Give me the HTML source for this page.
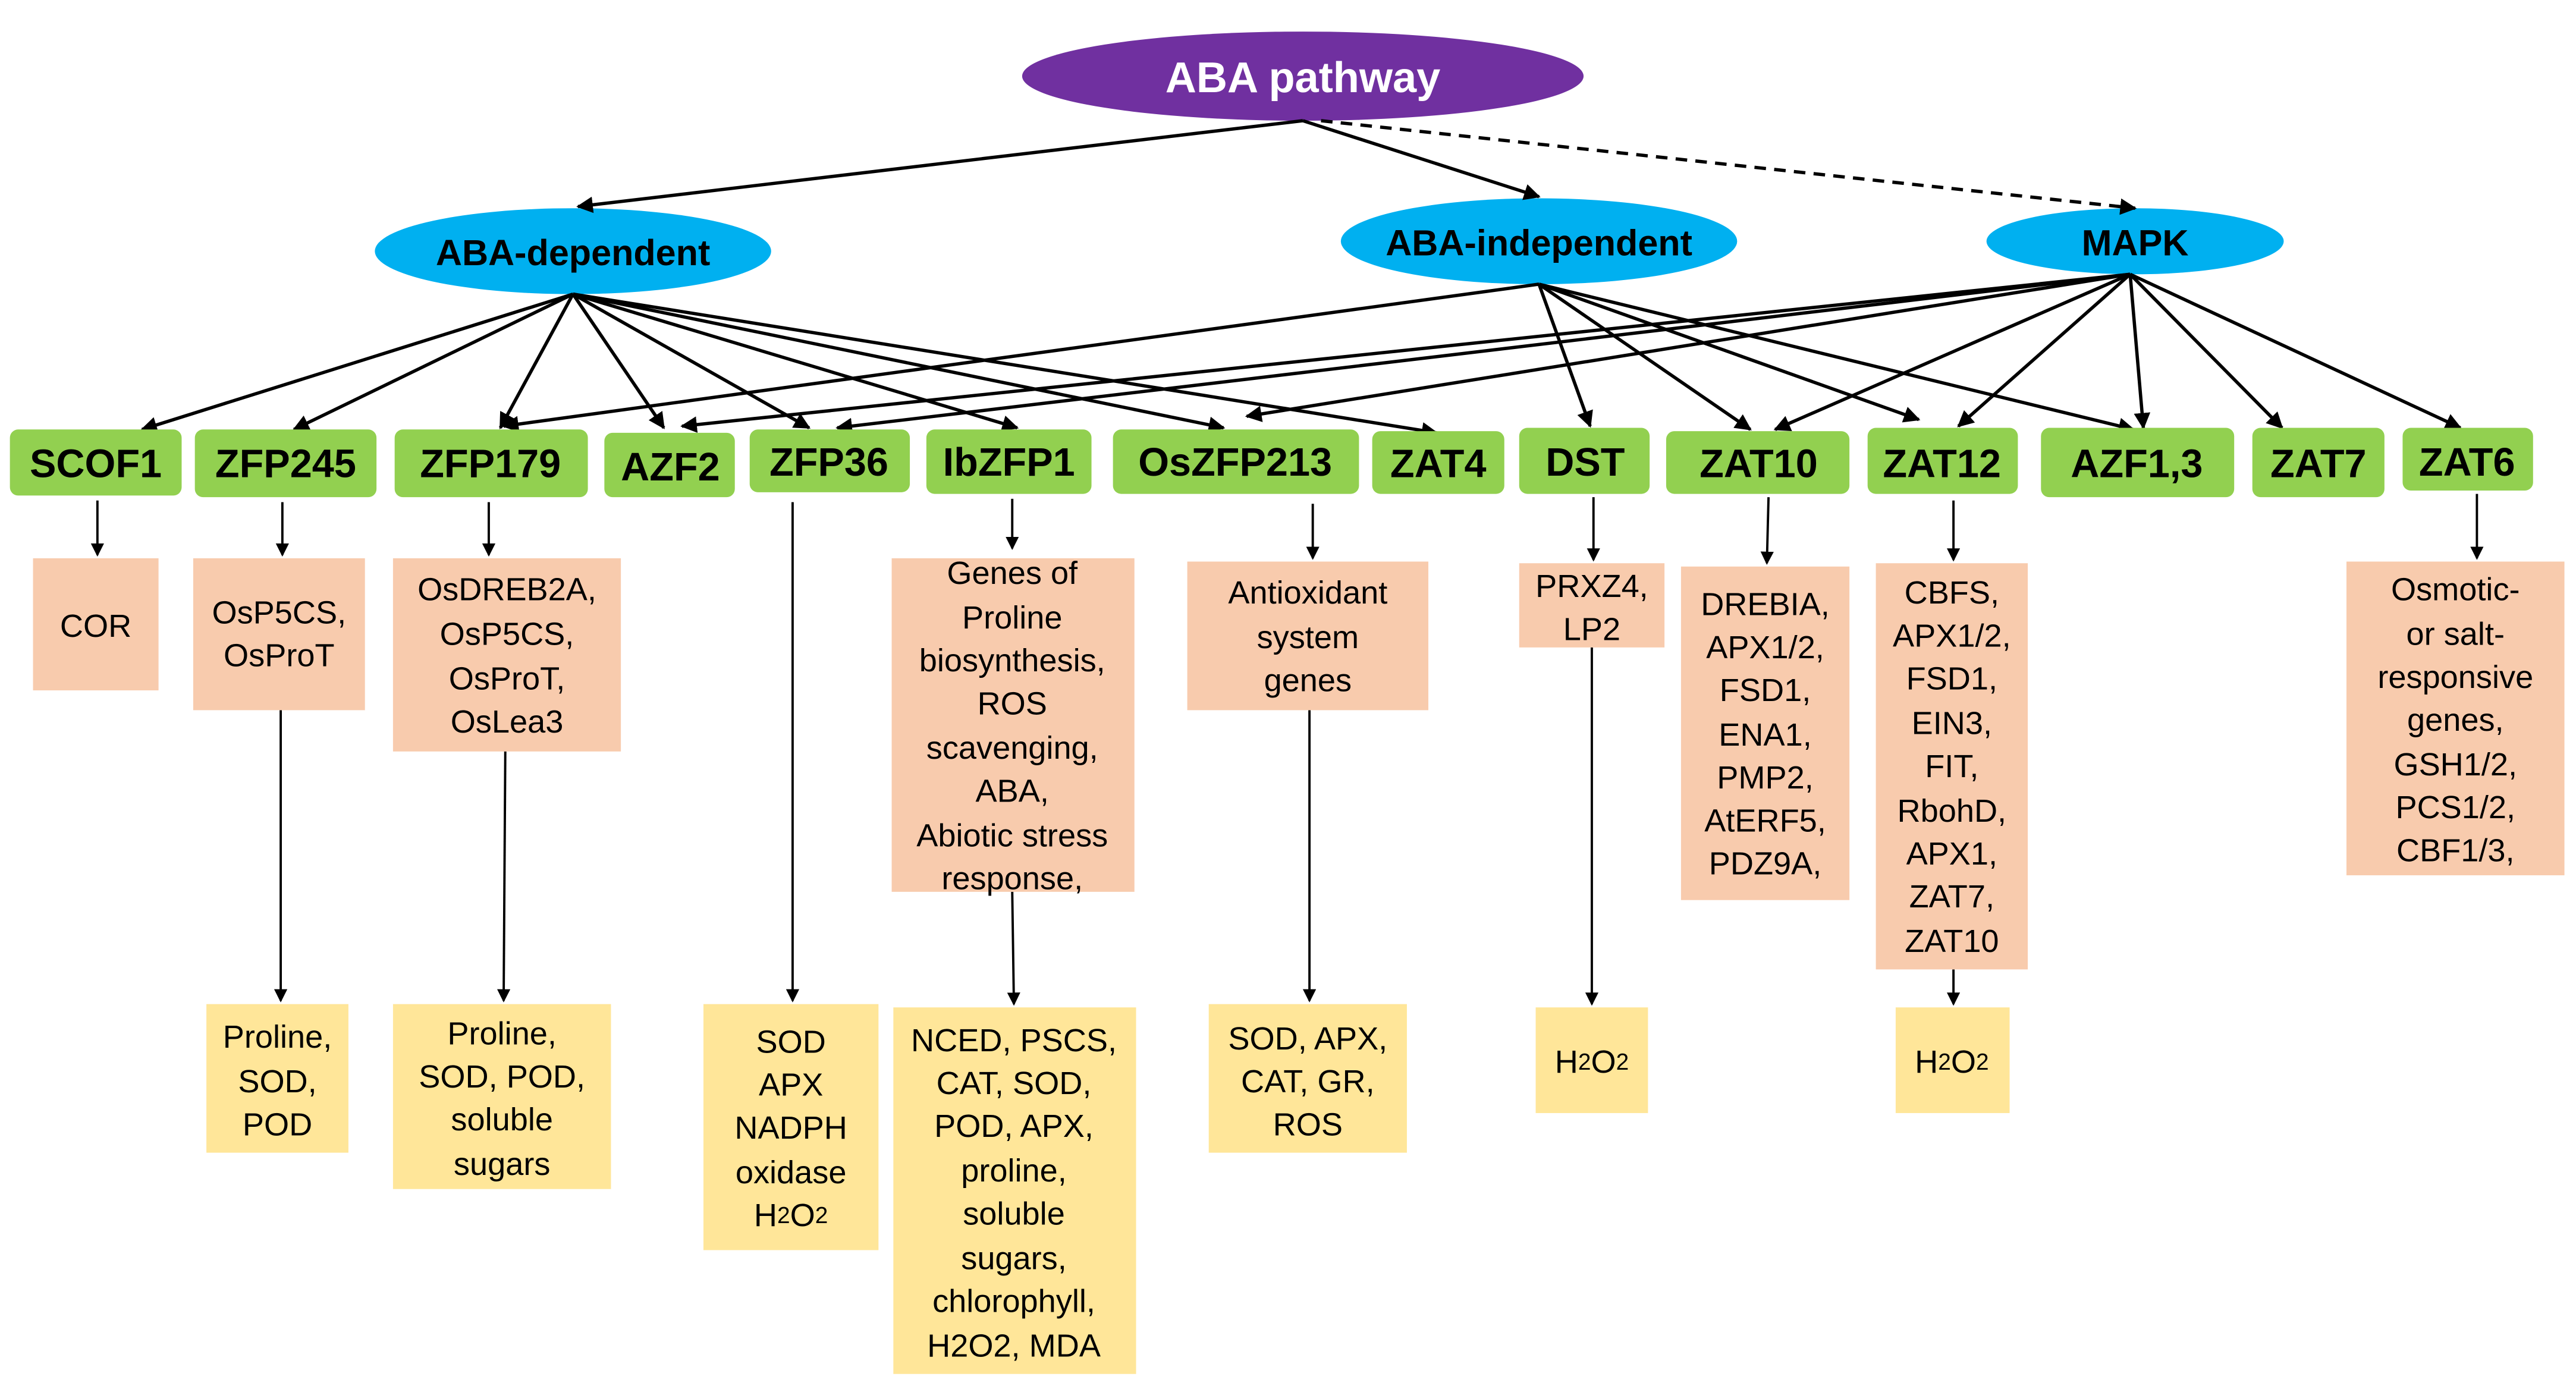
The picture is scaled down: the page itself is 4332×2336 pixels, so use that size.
<!DOCTYPE html>
<html><head><meta charset="utf-8"><style>
html,body{margin:0;padding:0;background:#fff;}
svg{display:block;}
text{font-family:"Liberation Sans",Arial,sans-serif;}
.g{fill:#92d050;}
.s{fill:#f8cbad;}
.y{fill:#ffe699;}
.gt{font-weight:bold;font-size:24px;fill:#000;text-anchor:middle;dominant-baseline:central;}
.bt{font-size:19.5px;fill:#000;text-anchor:middle;dominant-baseline:central;}
.l{stroke:#000;stroke-width:2;fill:none;}
.v{stroke:#000;stroke-width:1.4;fill:none;}
</style></head><body>
<svg width="4332" height="2336" viewBox="0 0 1560 841" xmlns="http://www.w3.org/2000/svg">
<defs>
<marker id="a" markerWidth="10" markerHeight="10" refX="9" refY="5" orient="auto" markerUnits="userSpaceOnUse"><path d="M0,0 L10,5 L0,10 Z" fill="#000"/></marker>
<marker id="b" markerWidth="8" markerHeight="8" refX="7" refY="4" orient="auto" markerUnits="userSpaceOnUse"><path d="M0,0 L8,4 L0,8 Z" fill="#000"/></marker>
</defs>
<rect width="1560" height="841" fill="#fff"/>

<!-- top ellipses -->
<ellipse cx="789" cy="46" rx="170" ry="27" fill="#7030a0"/>
<text x="789" y="47" class="gt" style="fill:#fff;font-size:26px">ABA pathway</text>
<ellipse cx="347" cy="152" rx="120" ry="26" fill="#00b0f0"/>
<text x="347" y="153" class="gt" style="font-size:22px">ABA-dependent</text>
<ellipse cx="932" cy="146" rx="120" ry="26" fill="#00b0f0"/>
<text x="932" y="147" class="gt" style="font-size:22px">ABA-independent</text>
<ellipse cx="1293" cy="146" rx="90" ry="20" fill="#00b0f0"/>
<text x="1293" y="147" class="gt" style="font-size:22px">MAPK</text>

<!-- top arrows -->
<line class="l" x1="789" y1="73" x2="350" y2="125" marker-end="url(#a)"/>
<line class="l" x1="789" y1="73" x2="932" y2="119" marker-end="url(#a)"/>
<line class="l" x1="800" y1="73" x2="1293" y2="126" stroke-dasharray="7,5" marker-end="url(#a)"/>

<!-- ABA-dependent -->
<g class="l">
<line x1="347" y1="178" x2="86" y2="260" marker-end="url(#a)"/>
<line x1="347" y1="178" x2="178" y2="260" marker-end="url(#a)"/>
<line x1="347" y1="178" x2="303" y2="259" marker-end="url(#a)"/>
<line x1="347" y1="178" x2="402" y2="259" marker-end="url(#a)"/>
<line x1="347" y1="178" x2="490" y2="259" marker-end="url(#a)"/>
<line x1="347" y1="178" x2="616" y2="259" marker-end="url(#a)"/>
<line x1="347" y1="178" x2="741" y2="259" marker-end="url(#a)"/>
<line x1="347" y1="178" x2="870" y2="262" marker-end="url(#a)"/>
</g>
<!-- ABA-independent -->
<g class="l">
<line x1="932" y1="172" x2="305" y2="258" marker-end="url(#a)"/>
<line x1="932" y1="172" x2="963" y2="258" marker-end="url(#a)"/>
<line x1="932" y1="172" x2="1060" y2="260" marker-end="url(#a)"/>
<line x1="932" y1="172" x2="1162" y2="254" marker-end="url(#a)"/>
<line x1="932" y1="172" x2="1292" y2="260" marker-end="url(#a)"/>
</g>
<!-- MAPK -->
<g class="l">
<line x1="1290" y1="166" x2="413" y2="258" marker-end="url(#a)"/>
<line x1="1290" y1="166" x2="507" y2="259" marker-end="url(#a)"/>
<line x1="1290" y1="166" x2="755" y2="252" marker-end="url(#a)"/>
<line x1="1290" y1="166" x2="1075" y2="260" marker-end="url(#a)"/>
<line x1="1290" y1="166" x2="1186" y2="258" marker-end="url(#a)"/>
<line x1="1290" y1="166" x2="1298" y2="259" marker-end="url(#a)"/>
<line x1="1290" y1="166" x2="1382" y2="259" marker-end="url(#a)"/>
<line x1="1290" y1="166" x2="1490" y2="259" marker-end="url(#a)"/>
</g>

<!-- green boxes -->
<g class="g">
<rect x="6" y="260" width="104" height="40" rx="5"/>
<rect x="118" y="260" width="110" height="41" rx="5"/>
<rect x="239" y="260" width="117" height="41" rx="5"/>
<rect x="366" y="262" width="79" height="39" rx="5"/>
<rect x="454" y="260" width="97" height="38" rx="5"/>
<rect x="561" y="260" width="100" height="39" rx="5"/>
<rect x="674" y="260" width="149" height="39" rx="5"/>
<rect x="831" y="261" width="80" height="38" rx="5"/>
<rect x="920" y="259" width="79" height="40" rx="5"/>
<rect x="1009" y="261" width="111" height="38" rx="5"/>
<rect x="1131" y="259" width="91" height="40" rx="5"/>
<rect x="1236" y="259" width="117" height="42" rx="5"/>
<rect x="1364" y="259" width="80" height="42" rx="5"/>
<rect x="1455" y="259" width="79" height="38" rx="5"/>
</g>
<text class="gt" x="58" y="281">SCOF1</text>
<text class="gt" x="173" y="281">ZFP245</text>
<text class="gt" x="297" y="281">ZFP179</text>
<text class="gt" x="406" y="283">AZF2</text>
<text class="gt" x="502" y="280">ZFP36</text>
<text class="gt" x="611" y="280">IbZFP1</text>
<text class="gt" x="748" y="280">OsZFP213</text>
<text class="gt" x="871" y="281">ZAT4</text>
<text class="gt" x="960" y="280">DST</text>
<text class="gt" x="1065" y="281">ZAT10</text>
<text class="gt" x="1176" y="281">ZAT12</text>
<text class="gt" x="1294" y="281">AZF1,3</text>
<text class="gt" x="1404" y="281">ZAT7</text>
<text class="gt" x="1494" y="280">ZAT6</text>

<!-- vertical arrows -->
<g class="v">
<line x1="59" y1="303" x2="59" y2="336" marker-end="url(#b)"/>
<line x1="171" y1="304" x2="171" y2="336" marker-end="url(#b)"/>
<line x1="296" y1="304" x2="296" y2="336" marker-end="url(#b)"/>
<line x1="480" y1="304" x2="480" y2="606" marker-end="url(#b)"/>
<line x1="613" y1="302" x2="613" y2="332" marker-end="url(#b)"/>
<line x1="795" y1="305" x2="795" y2="338" marker-end="url(#b)"/>
<line x1="965" y1="301" x2="965" y2="339" marker-end="url(#b)"/>
<line x1="1071" y1="301" x2="1070" y2="341" marker-end="url(#b)"/>
<line x1="1183" y1="303" x2="1183" y2="339" marker-end="url(#b)"/>
<line x1="1500" y1="299" x2="1500" y2="338" marker-end="url(#b)"/>
<line x1="170" y1="430" x2="170" y2="606" marker-end="url(#b)"/>
<line x1="306" y1="455" x2="305" y2="606" marker-end="url(#b)"/>
<line x1="613" y1="540" x2="614" y2="608" marker-end="url(#b)"/>
<line x1="793" y1="430" x2="793" y2="606" marker-end="url(#b)"/>
<line x1="964" y1="392" x2="964" y2="608" marker-end="url(#b)"/>
<line x1="1183" y1="587" x2="1183" y2="608" marker-end="url(#b)"/>
</g>

<!-- salmon boxes -->
<g class="s">
<rect x="20" y="338" width="76" height="80"/>
<rect x="117" y="338" width="104" height="92"/>
<rect x="238" y="338" width="138" height="117"/>
<rect x="540" y="338" width="147" height="202"/>
<rect x="719" y="340" width="146" height="90"/>
<rect x="920" y="341" width="88" height="51"/>
<rect x="1018" y="343" width="102" height="202"/>
<rect x="1136" y="341" width="92" height="246"/>
<rect x="1421" y="340" width="132" height="190"/>
</g>
<g class="bt">
<text x="58" y="379">COR</text>
<text x="169" y="371">OsP5CS,</text><text x="169" y="397">OsProT</text>
<text x="307" y="357">OsDREB2A,</text><text x="307" y="384">OsP5CS,</text><text x="307" y="411">OsProT,</text><text x="307" y="437">OsLea3</text>
<text x="613" y="347">Genes of</text><text x="613" y="374">Proline</text><text x="613" y="400">biosynthesis,</text><text x="613" y="426">ROS</text><text x="613" y="453">scavenging,</text><text x="613" y="479">ABA,</text><text x="613" y="506">Abiotic stress</text><text x="613" y="532">response,</text>
<text x="792" y="359">Antioxidant</text><text x="792" y="386">system</text><text x="792" y="412">genes</text>
<text x="964" y="355">PRXZ4,</text><text x="964" y="381">LP2</text>
<text x="1069" y="366">DREBIA,</text><text x="1069" y="392">APX1/2,</text><text x="1069" y="418">FSD1,</text><text x="1069" y="445">ENA1,</text><text x="1069" y="471">PMP2,</text><text x="1069" y="497">AtERF5,</text><text x="1069" y="523">PDZ9A,</text>
<text x="1182" y="359">CBFS,</text><text x="1182" y="385">APX1/2,</text><text x="1182" y="411">FSD1,</text><text x="1182" y="438">EIN3,</text><text x="1182" y="464">FIT,</text><text x="1182" y="491">RbohD,</text><text x="1182" y="517">APX1,</text><text x="1182" y="543">ZAT7,</text><text x="1182" y="570">ZAT10</text>
<text x="1487" y="357">Osmotic-</text><text x="1487" y="384">or salt-</text><text x="1487" y="410">responsive</text><text x="1487" y="436">genes,</text><text x="1487" y="463">GSH1/2,</text><text x="1487" y="489">PCS1/2,</text><text x="1487" y="515">CBF1/3,</text>
</g>

<!-- yellow boxes -->
<g class="y">
<rect x="125" y="608" width="86" height="90"/>
<rect x="238" y="608" width="132" height="112"/>
<rect x="426" y="608" width="106" height="149"/>
<rect x="541" y="610" width="147" height="222"/>
<rect x="732" y="608" width="120" height="90"/>
<rect x="930" y="610" width="68" height="64"/>
<rect x="1148" y="610" width="69" height="64"/>
</g>
<g class="bt">
<text x="168" y="628">Proline,</text><text x="168" y="655">SOD,</text><text x="168" y="681">POD</text>
<text x="304" y="626">Proline,</text><text x="304" y="652">SOD, POD,</text><text x="304" y="678">soluble</text><text x="304" y="705">sugars</text>
<text x="479" y="631">SOD</text><text x="479" y="657">APX</text><text x="479" y="683">NADPH</text><text x="479" y="710">oxidase</text><text x="479" y="736">H<tspan font-size="14">2</tspan>O<tspan font-size="14">2</tspan></text>
<text x="614" y="630">NCED, PSCS,</text><text x="614" y="656">CAT, SOD,</text><text x="614" y="682">POD, APX,</text><text x="614" y="709">proline,</text><text x="614" y="735">soluble</text><text x="614" y="762">sugars,</text><text x="614" y="788">chlorophyll,</text><text x="614" y="815">H2O2, MDA</text>
<text x="792" y="629">SOD, APX,</text><text x="792" y="655">CAT, GR,</text><text x="792" y="681">ROS</text>
<text x="964" y="643">H<tspan font-size="14">2</tspan>O<tspan font-size="14">2</tspan></text>
<text x="1182" y="643">H<tspan font-size="14">2</tspan>O<tspan font-size="14">2</tspan></text>
</g>
</svg>
</body></html>
